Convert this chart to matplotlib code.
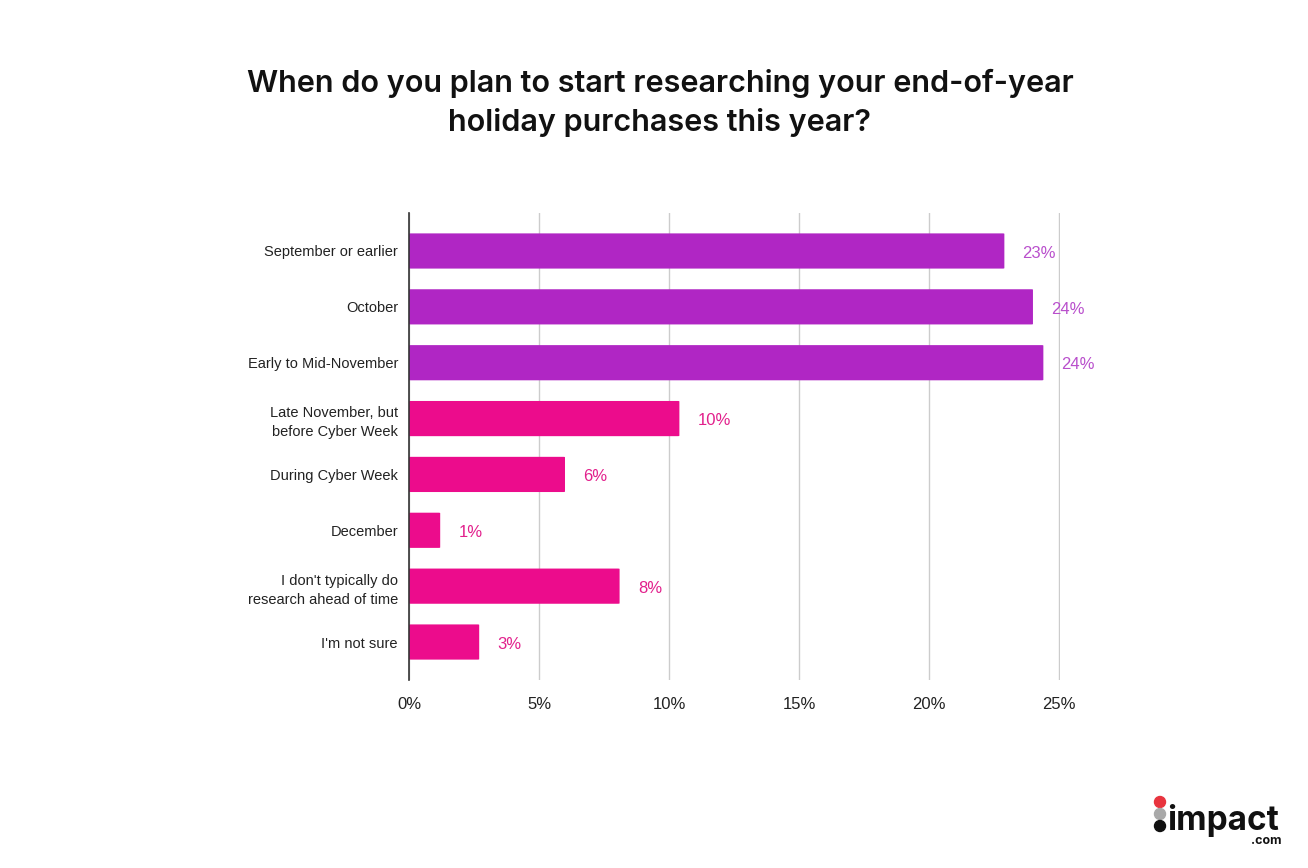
import matplotlib
matplotlib.use("Agg")
import matplotlib.pyplot as plt
from matplotlib.patches import Circle, FancyBboxPatch

categories = ["September or earlier", "October", "Early to Mid-November",
              "Late November, but\nbefore Cyber Week", "During Cyber Week",
              "December", "I don't typically do\nresearch ahead of time", "I'm not sure"]
values = [22.9, 24.0, 24.4, 10.4, 6.0, 1.2, 8.1, 2.7]
value_labels = ["23%", "24%", "24%", "10%", "6%", "1%", "8%", "3%"]
purple = "#B026C4"
pink = "#EC0C8C"
bar_colors = [purple, purple, purple, pink, pink, pink, pink, pink]
label_colors = ["#B94FCC"] * 3 + ["#E2208C"] * 5
xticks = [0, 5, 10, 15, 20, 25]
xtick_labels = ["0%", "5%", "10%", "15%", "20%", "25%"]

W, H = 1308, 868
fig = plt.figure(figsize=(W / 100, H / 100), dpi=100)
fig.patch.set_facecolor("white")

ax = fig.add_axes([409 / W, 1 - 680 / H, (1060 - 409) / W, (680 - 213) / H])
ypos = list(range(len(categories)))
for y, v, c in zip(ypos, values, bar_colors):
    p = FancyBboxPatch((0, y - 0.315), v, 0.63,
                       boxstyle="round,pad=0,rounding_size=0.06",
                       mutation_aspect=1 / 8, linewidth=0, facecolor=c, zorder=3)
    ax.add_patch(p)
for y, v, t, c in zip(ypos, values, value_labels, label_colors):
    ax.text(v + 0.7, y + 0.04, t, va="center", ha="left", fontsize=12, color=c,
            family="Liberation Sans", clip_on=False)

ax.set_xlim(0, 25.04)
ax.set_ylim(7.68, -0.68)
ax.set_yticks(ypos)
ax.set_yticklabels(categories, fontsize=10.5, family="Liberation Sans", color="#222222",
                   linespacing=1.45)
ax.set_xticks(xticks)
ax.set_xticklabels(xtick_labels, fontsize=12, family="Liberation Sans", color="#222222")
ax.tick_params(axis="both", length=0)
ax.tick_params(axis="y", pad=8)
ax.tick_params(axis="x", pad=12)
ax.grid(axis="x", color="#cccccc", linewidth=1, zorder=0)
for s in ["top", "right", "bottom"]:
    ax.spines[s].set_visible(False)
ax.spines["left"].set_color("#333333")
ax.spines["left"].set_linewidth(1.2)
ax.spines["left"].set_zorder(4)

fig.text(660 / W, 1 - 103 / H,
         "When do you plan to start researching your end-of-year\nholiday purchases this year?",
         ha="center", va="center", fontsize=22, fontweight="semibold", family="Inter",
         color="#111111", linespacing=1.42)

# logo
lax = fig.add_axes([0, 0, 1, 1], zorder=-1)
lax.set_xlim(0, W)
lax.set_ylim(H, 0)
lax.axis("off")
lax.add_patch(Circle((1160, 802), 5.5, color="#E8343E"))
lax.add_patch(Circle((1160, 814), 5.5, color="#A9A9A9"))
lax.add_patch(Circle((1160, 826), 5.5, color="#111111"))
lax.text(1167, 830, "impact", fontsize=24, fontweight="bold", family="Inter",
         color="#111111", ha="left", va="baseline")
lax.text(1281, 844, ".com", fontsize=9, fontweight="bold", family="Inter",
         color="#111111", ha="right", va="baseline")

fig.savefig("out.png", dpi=100, facecolor="white")
